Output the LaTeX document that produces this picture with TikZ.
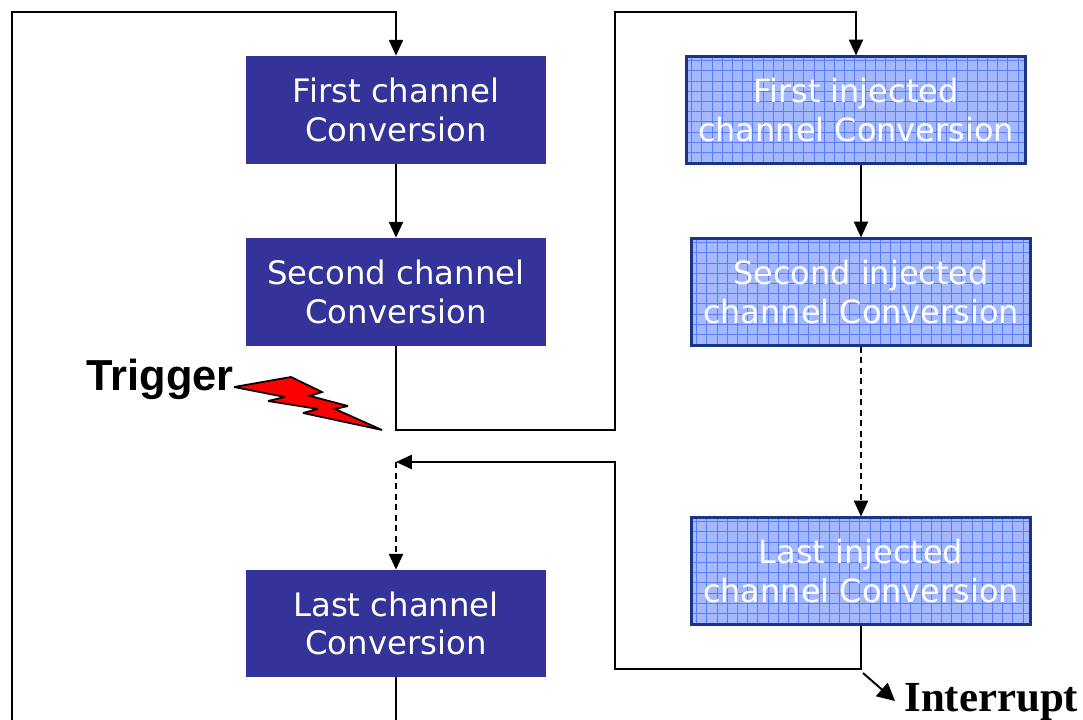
\documentclass[tikz,border=0pt]{standalone}
\usepackage{fontspec}
\usepackage{tikz}
\setmainfont{DejaVu Sans}
\newfontfamily\labelsans{Liberation Sans}
\newfontfamily\labelserif{Liberation Serif}
\usetikzlibrary{arrows.meta}
\definecolor{chanblue}{HTML}{333399}
\definecolor{injedge}{HTML}{1A3585}
\definecolor{injfill}{HTML}{A3B8FF}
\definecolor{injgrid}{HTML}{5A7CFF}
\tikzset{
  flow/.style={draw=black,line width=1.1pt,-{Triangle[length=9pt,width=8pt]}},
  plainflow/.style={draw=black,line width=1.1pt},
  dashflow/.style={flow,dash pattern=on 3.5pt off 2.5pt},
  channel/.style={fill=chanblue,text=white,inner sep=0pt,align=center,minimum width=6cm,font=\fontsize{18.4}{22}\selectfont},
  injected/.style={draw=injedge,line width=1.2pt,fill=injfill,text=white,inner sep=0pt,align=center,minimum width=6.78cm,minimum height=2.14cm,font=\fontsize{18.2}{22}\selectfont,
    path picture={
      \foreach \gx in {0,...,33} \draw[injgrid,line width=0.4pt] ([xshift=\gx*0.204cm+0.1cm]path picture bounding box.north west) -- ([xshift=\gx*0.204cm+0.1cm]path picture bounding box.south west);
      \foreach \gy in {0,...,10} \draw[injgrid,line width=0.4pt] ([yshift=-\gy*0.204cm-0.08cm]path picture bounding box.north west) -- ([yshift=-\gy*0.204cm-0.08cm]path picture bounding box.north east);
    }}
}
\begin{document}
\begin{tikzpicture}[x=0.02cm,y=-0.02cm]
\useasboundingbox (0,0) rectangle (1083,720);
\node[channel,minimum height=2.16cm] (first) at (396,110) {First channel\\Conversion};
\node[channel,minimum height=2.16cm] (second) at (396,292) {Second channel\\Conversion};
\node[channel,minimum height=2.14cm] (last) at (396,623.5) {Last channel\\Conversion};
\node[injected] (firstinj) at (856,110) {First injected\\channel Conversion};
\node[injected] (secondinj) at (861,292) {Second injected\\channel Conversion};
\node[injected] (lastinj) at (861,571) {Last injected\\channel Conversion};
\coordinate (bottomleft) at (12,720);
\coordinate (topleft) at (12,12);
\coordinate (bottommid) at (396,720);
\coordinate (trigcorner) at (396,430);
\coordinate (backjoin) at (396,462);
\coordinate (rightjoin) at (615,430);
\coordinate (rightjointop) at (615,12);
\coordinate (returnup) at (615,462);
\coordinate (returndown) at (615,669);
\coordinate (returncorner) at (861,669);
\draw[flow] (bottomleft) -- (topleft) -- (first.north |- topleft) -- (first.north);
\draw[flow] (first) -- (second);
\draw[flow] (second.south) -- (trigcorner) -- (rightjoin) -- (rightjointop) -- (firstinj.north |- rightjointop) -- (firstinj.north);
\draw[flow] (secondinj.north |- firstinj.south) -- (secondinj.north);
\draw[dashflow] (secondinj.south) -- (lastinj.north);
\draw[flow] (lastinj.south) -- (returncorner) -- (returndown) -- (returnup) -- (backjoin);
\draw[dashflow] (backjoin) -- (last.north);
\draw[plainflow] (last.south) -- (bottommid);
\node[font=\labelsans\bfseries\fontsize{24.7}{28}\selectfont,anchor=east,inner sep=0pt] (trigger) at (234,379) {Trigger};
\draw[black,line width=1pt,fill=red,miter limit=4] (234,387) -- (291,377) -- (322,392) -- (310,396) -- (348,406) -- (335,409) -- (382,430) -- (303,413) -- (318,409) -- (268,401) -- (285,397) -- cycle;
\node[font=\labelserif\bfseries\fontsize{24.4}{28}\selectfont,anchor=west,inner sep=0pt] (interrupt) at (904,702) {Interrupt};
\coordinate (intstart) at (863,673);
\draw[flow,-{Triangle[length=10pt,width=10pt]}] (intstart) -- (895,701);
\end{tikzpicture}
\end{document}
